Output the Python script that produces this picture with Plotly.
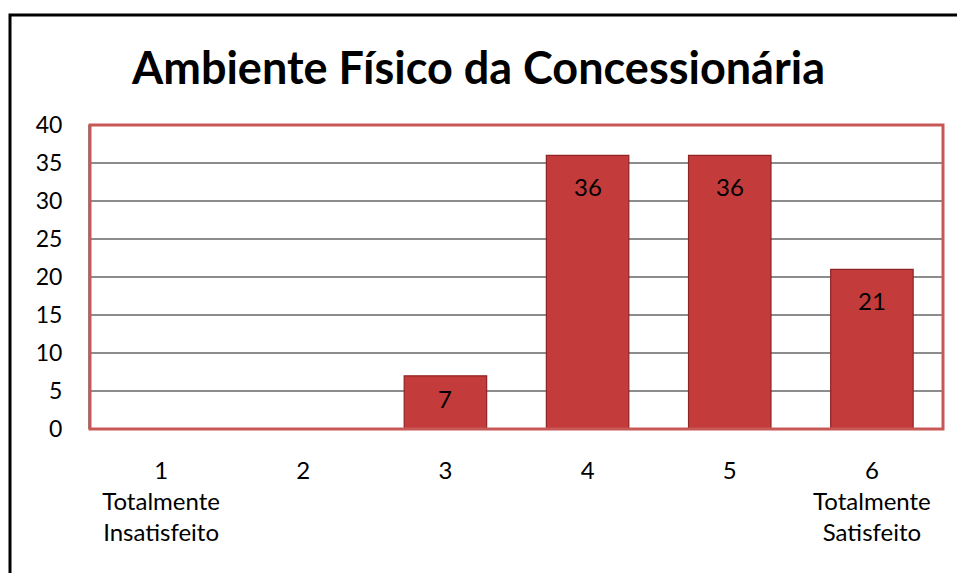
import plotly.graph_objects as go

categories = ["1<br>Totalmente<br>Insatisfeito", "2", "3", "4", "5", "6<br>Totalmente<br>Satisfeito"]
values = [0, 0, 7, 36, 36, 21]
y_ticks = [0, 5, 10, 15, 20, 25, 30, 35, 40]

W, H = 957, 573
L, R, T, B = 90, 14, 125, 144
pw, ph = W - L - R, H - T - B
YMAX = 40

def px(x):
    return (x - L) / pw

def py(y):
    return (H - B - y) / ph

fig = go.Figure()
fig.add_trace(go.Bar(
    x=categories, y=values,
    marker=dict(color="#C43B3B", line=dict(color="#8E2424", width=1.2)),
    width=0.58,
))

for i, v in enumerate(values):
    if v:
        bar_px = v / YMAX * ph
        fig.add_annotation(x=i, y=v, text=str(v), showarrow=False,
                           yanchor="middle", yshift=-min(31, 0.43 * bar_px),
                           font=dict(family="Lato", size=24, color="black"))

fig.update_layout(
    width=W, height=H,
    margin=dict(l=L, r=R, t=T, b=B),
    paper_bgcolor="white", plot_bgcolor="white",
    showlegend=False,
    title=dict(text="<b>Ambiente Físico da Concessionária</b>",
               font=dict(family="Lato", size=45, color="black"),
               x=0.5, xanchor="center", y=1 - 68 / H, yanchor="middle"),
    xaxis=dict(type="category", showgrid=False, showline=False, ticks="",
               tickfont=dict(family="Lato", size=24, color="black"),
               ticklabelstandoff=25),
    yaxis=dict(range=[0, YMAX], tickvals=y_ticks, showgrid=True,
               gridcolor="#8C8C8C", gridwidth=1.5, zeroline=False,
               showline=True, linecolor="#8C8C8C", linewidth=2,
               ticks="", tickfont=dict(family="Lato", size=23, color="black"),
               ticklabelstandoff=21),
    shapes=[
        dict(type="rect", xref="paper", yref="paper", x0=0, x1=1, y0=0, y1=1,
             line=dict(color="#C85856", width=3), fillcolor="rgba(0,0,0,0)", layer="above"),
        dict(type="rect", xref="paper", yref="paper",
             x0=px(10), x1=px(1200), y0=py(900), y1=py(15),
             line=dict(color="black", width=3), fillcolor="rgba(0,0,0,0)"),
    ],
)

fig.write_html("out.html", config={"displayModeBar": False},
               post_script="document.body.style.margin='0';")
